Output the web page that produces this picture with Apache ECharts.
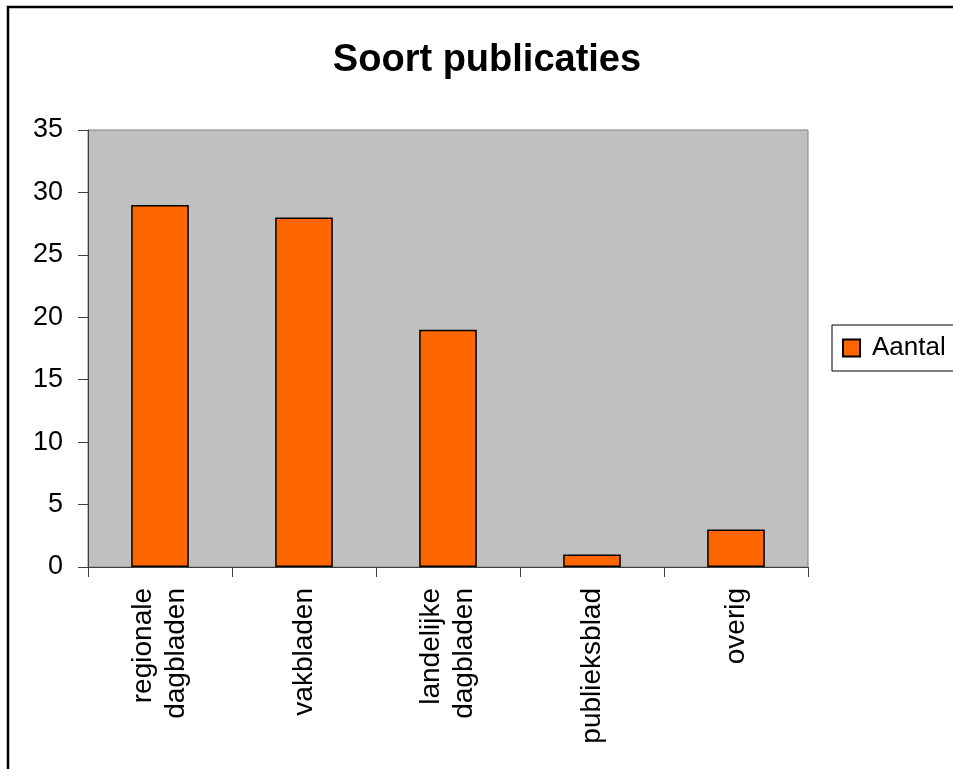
<!DOCTYPE html>
<html>
<head>
<meta charset="utf-8">
<script src="https://cdn.jsdelivr.net/npm/echarts@6/dist/echarts.min.js"></script>
<style>html,body{margin:0;padding:0;background:#fff;}#c{width:953px;height:769px;}</style>
</head>
<body>
<div id="c"></div>
<script>
const categories = ['regionale\ndagbladen', 'vakbladen', 'landelijke\ndagbladen', 'publieksblad', 'overig'];
const aantal = [29, 28, 19, 1, 3];
const yTicks = [0, 5, 10, 15, 20, 25, 30, 35];

const chart = echarts.init(document.getElementById('c'));
const font = '"Liberation Sans", Arial, sans-serif';
chart.setOption({
  animation: false,
  backgroundColor: '#fff',
  title: {
    text: 'Soort publicaties',
    left: 482, top: 37, textAlign: 'center',
    textStyle: { fontFamily: font, fontSize: 38, fontWeight: 'bold', color: '#000' }
  },
  graphic: [{
    type: 'rect', shape: { x: 8, y: 7, width: 1000, height: 800 },
    style: { fill: 'none', stroke: '#000', lineWidth: 2.5 }, z: 100
  }],
  legend: {
    data: ['Aantal'], left: 832, top: 325, orient: 'vertical',
    padding: [10, 10, 10, 10], borderColor: '#000', borderWidth: 1,
    icon: 'rect', itemWidth: 17, itemHeight: 17, itemGap: 0,
    textStyle: { fontFamily: font, fontSize: 26, color: '#000', padding: [0, 0, 0, 7] }
  },
  grid: {
    left: 88, top: 130, right: 145, bottom: 202, show: true,
    backgroundColor: '#C0C0C0', borderColor: '#808080', borderWidth: 1
  },
  xAxis: {
    type: 'category', data: categories,
    axisLine: { lineStyle: { color: '#404040', width: 1 } },
    axisTick: { show: true, length: 10, lineStyle: { color: '#404040' } },
    axisLabel: { rotate: 90, margin: 21, fontFamily: font, fontSize: 28, color: '#000', lineHeight: 33 }
  },
  yAxis: {
    type: 'value', min: 0, max: 35, interval: 5,
    splitLine: { show: false },
    axisLine: { show: true, lineStyle: { color: '#404040', width: 1 } },
    axisTick: { show: true, length: 10, lineStyle: { color: '#404040' } },
    axisLabel: {
      margin: 25, fontFamily: font, fontSize: 27, color: '#000',
      formatter: v => yTicks.includes(v) ? String(v) : ''
    }
  },
  series: [{
    name: 'Aantal', type: 'bar', data: aantal, barWidth: '40%',
    itemStyle: { color: '#FF6600', borderColor: '#000', borderWidth: 1.5 }
  }]
});
</script>
</body>
</html>
